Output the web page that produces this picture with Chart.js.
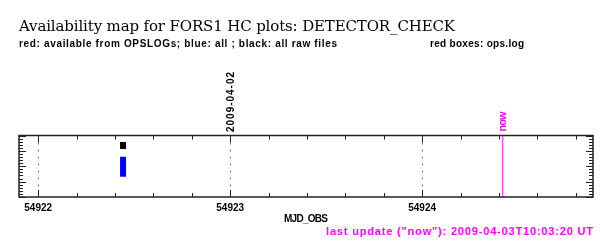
<!DOCTYPE html>
<html>
<head>
<meta charset="utf-8">
<script src="https://cdn.jsdelivr.net/npm/chart.js@4"></script>
<style>
  body { margin: 0; background: #fff; }
  #wrap { width: 600px; height: 242px; }
</style>
</head>
<body>
<div id="wrap"><canvas id="map" width="600" height="242"></canvas></div>
<script>
// Axis ranges (MJD)
const xRange = [54921.9, 54924.89];
const yRange = [0, 4];
const xMinorStep = 0.2;
const yMinorStep = 0.2;

// Labelled ticks
const xTickValues = [54922, 54923, 54924];
const xTickLabels = ['54922', '54923', '54924'];
const dateTickValues = [54923];
const dateTickLabels = ['2009-04-02'];

// Availability marks (x = MJD, y = [from, to])
const blackX = [54922.442];
const blackY = [[3.12, 3.57]];
const blueX = [54922.442];
const blueY = [[1.32, 2.62]];

// "now" marker
const nowMjd = 54924.419;
const nowLabel = 'now';

const titleText = 'Availability map for FORS1 HC plots: DETECTOR_CHECK';
const subLeft = 'red: available from OPSLOGs; blue: all ; black: all raw files';
const subRight = 'red boxes: ops.log';
const xAxisTitle = 'MJD_OBS';
const updateText = 'last update ("now"): 2009-04-03T10:03:20 UT';

function segments(xs, ys, color, width) {
    return xs.map((x, i) => ({
        data: [{ x: x, y: ys[i][0] }, { x: x, y: ys[i][1] }],
        borderColor: color,
        borderWidth: width,
        borderCapStyle: 'butt',
        pointRadius: 0
    }));
}

// draw text stretched to a given width
function fitText(ctx, text, x, y, width) {
    ctx.letterSpacing = '0px';
    const w = ctx.measureText(text).width;
    const extra = (width - w) / (text.length - 1);
    ctx.letterSpacing = extra + 'px';
    ctx.fillText(text, x, y);
    ctx.letterSpacing = '0px';
}

function tickList(min, max, step) {
    const out = [];
    for (let k = Math.ceil(min / step - 1e-9); k * step <= max + 1e-9; k++) {
        out.push(Math.round(k * step * 1000) / 1000);
    }
    return out;
}

const isMajor = v => Math.abs(v - Math.round(v)) < 1e-6;

const framePlugin = {
    id: 'frame',
    beforeDatasetsDraw(chart) {
        const { ctx, chartArea: a, scales: { x } } = chart;
        ctx.save();
        ctx.strokeStyle = '#777';
        ctx.lineWidth = 1;
        ctx.setLineDash([2, 5]);
        xTickValues.forEach(v => {
            const px = Math.round(x.getPixelForValue(v)) + 0.5;
            ctx.beginPath();
            ctx.moveTo(px, a.top);
            ctx.lineTo(px, a.bottom);
            ctx.stroke();
        });
        ctx.restore();
    },
    afterDraw(chart) {
        const { ctx, chartArea: a, scales: { x, y } } = chart;
        ctx.save();

        // now line
        ctx.strokeStyle = '#ff44ff';
        ctx.lineWidth = 1.2;
        const nx = x.getPixelForValue(nowMjd);
        ctx.beginPath();
        ctx.moveTo(nx, a.top);
        ctx.lineTo(nx, a.bottom);
        ctx.stroke();

        // frame
        ctx.strokeStyle = '#222';
        ctx.lineWidth = 1.5;
        ctx.strokeRect(a.left, a.top, a.right - a.left, a.bottom - a.top);

        // ticks, drawn inward
        ctx.lineWidth = 1;
        ctx.beginPath();
        tickList(xRange[0], xRange[1], xMinorStep).forEach(v => {
            const px = Math.round(x.getPixelForValue(v)) + 0.5;
            const len = isMajor(v) ? 7 : 4;
            ctx.moveTo(px, a.top); ctx.lineTo(px, a.top + len);
            ctx.moveTo(px, a.bottom); ctx.lineTo(px, a.bottom - len);
        });
        tickList(yRange[0], yRange[1], yMinorStep).forEach(v => {
            const py = Math.round(y.getPixelForValue(v)) + 0.5;
            const len = isMajor(v) ? 7 : 4;
            ctx.moveTo(a.left, py); ctx.lineTo(a.left + len, py);
            ctx.moveTo(a.right, py); ctx.lineTo(a.right - len, py);
        });
        ctx.stroke();

        // titles
        ctx.fillStyle = '#000';
        ctx.textBaseline = 'alphabetic';
        ctx.textAlign = 'left';
        ctx.font = '15px "DejaVu Serif"';
        fitText(ctx, titleText, 19, 31, 436);
        ctx.font = 'bold 10px "Liberation Sans"';
        fitText(ctx, subLeft, 19, 47, 318);
        fitText(ctx, subRight, 430, 47, 94);

        // x tick labels
        ctx.font = 'bold 10px "Liberation Sans"';
        ctx.textAlign = 'center';
        xTickValues.forEach((v, i) => {
            ctx.fillText(xTickLabels[i], x.getPixelForValue(v), 210.5);
        });
        ctx.textAlign = 'left';
        const mid = (a.left + a.right) / 2;
        fitText(ctx, xAxisTitle, mid - 22, 221.5, 44);

        // rotated date labels
        dateTickValues.forEach((v, i) => {
            ctx.save();
            ctx.translate(x.getPixelForValue(v) + 3.5, a.top - 3.5);
            ctx.rotate(-Math.PI / 2);
            ctx.font = 'bold 10px "Liberation Sans"';
            fitText(ctx, dateTickLabels[i], 0, 0, 60);
            ctx.restore();
        });

        // now label and last update
        ctx.fillStyle = '#ff00ff';
        ctx.save();
        ctx.translate(nx + 3.5, a.top - 4);
        ctx.rotate(-Math.PI / 2);
        ctx.font = 'bold 11px "Liberation Sans"';
        fitText(ctx, nowLabel, 0, 0, 20);
        ctx.restore();
        ctx.font = 'bold 11px "Liberation Sans"';
        fitText(ctx, updateText, 326, 235, 267);

        ctx.restore();
    }
};

new Chart(document.getElementById('map'), {
    type: 'line',
    data: {
        datasets: [
            ...segments(blueX, blueY, '#0000ff', 6),
            ...segments(blackX, blackY, '#000000', 6)
        ]
    },
    options: {
        responsive: false,
        animation: false,
        layout: { padding: { left: 19, right: 7, top: 135.5, bottom: 45 } },
        scales: {
            x: { type: 'linear', min: xRange[0], max: xRange[1], display: false },
            y: { type: 'linear', min: yRange[0], max: yRange[1], display: false }
        },
        plugins: {
            legend: { display: false },
            tooltip: { enabled: false }
        }
    },
    plugins: [framePlugin]
});
</script>
</body>
</html>
